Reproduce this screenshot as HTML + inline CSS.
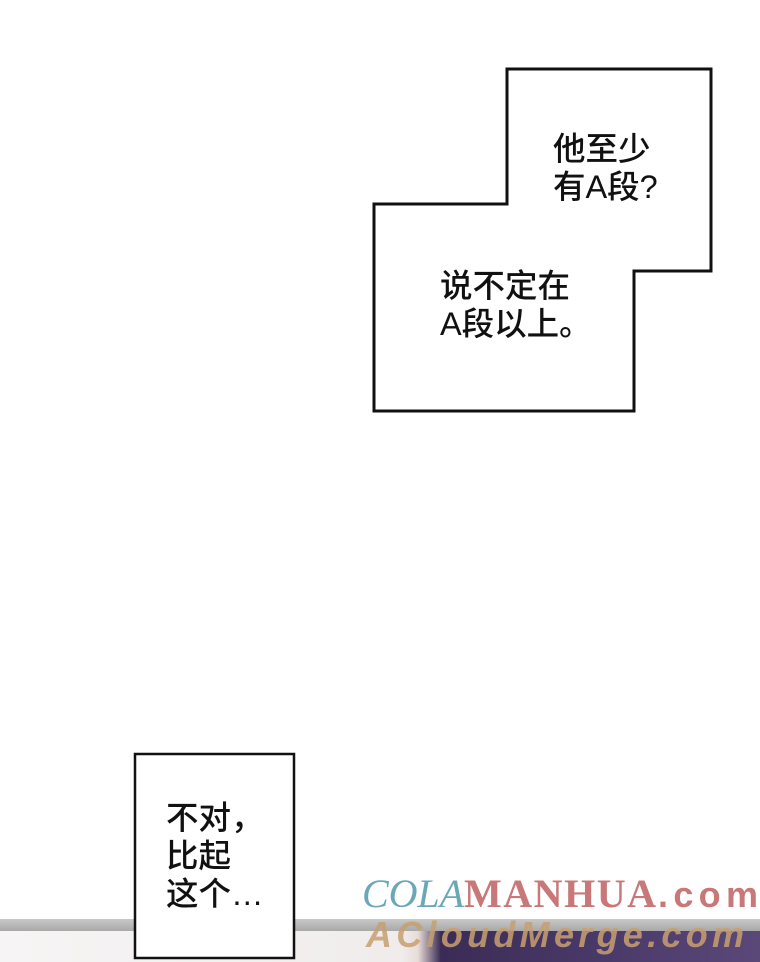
<!DOCTYPE html>
<html><head><meta charset="utf-8"><style>
body{margin:0;width:760px;height:962px;overflow:hidden;background:#fff;position:relative;font-family:"Liberation Sans","Noto Sans CJK SC",sans-serif;}
.t{position:absolute;font-size:32.5px;line-height:38px;color:#111;white-space:nowrap;font-weight:500;}
</style></head><body>
<div style="position:absolute;left:0;top:919px;width:760px;height:12px;background:linear-gradient(#c8c8c8,#a8a8a8);"></div>
<div style="position:absolute;left:0;top:931px;width:760px;height:31px;background:linear-gradient(90deg,#f6f4f4 0%,#f0ecec 53%,#e8dcd8 55%,#3a2c55 58%,#4a3a6a 80%,#5a4878 100%);"></div>
<svg width="760" height="962" style="position:absolute;left:0;top:0">
<polygon points="507,69 711,69 711,271 634,271 634,411 374,411 374,204 507,204" fill="#fff" stroke="#111" stroke-width="3"/>
<rect x="135" y="754" width="159" height="204" fill="#fff" stroke="#111" stroke-width="2.5"/>
<text x="362" y="907" font-family="Liberation Serif,serif" font-style="italic" font-size="40" fill="#6aa8b8" textLength="102">COLA</text>
<text x="464" y="907" font-family="Liberation Serif,serif" font-weight="bold" font-size="40" fill="#c87878" textLength="192">MANHUA</text>
<text x="658" y="907" font-family="Liberation Sans,sans-serif" font-weight="bold" font-size="36" fill="#c87878" textLength="100">.com</text>
<text x="366" y="947" font-family="Liberation Sans,sans-serif" font-weight="bold" font-style="italic" font-size="36" fill="#c8a070" opacity="0.85" textLength="378">ACloudMerge.com</text>
</svg>
<div class="t" style="left:553px;top:130px">他至少<br>有A段?</div>
<div class="t" style="left:440px;top:267px">说不定在<br>A段以上。</div>
<div class="t" style="left:166px;top:799px">不对，<br>比起<br>这个…</div>
</body></html>
